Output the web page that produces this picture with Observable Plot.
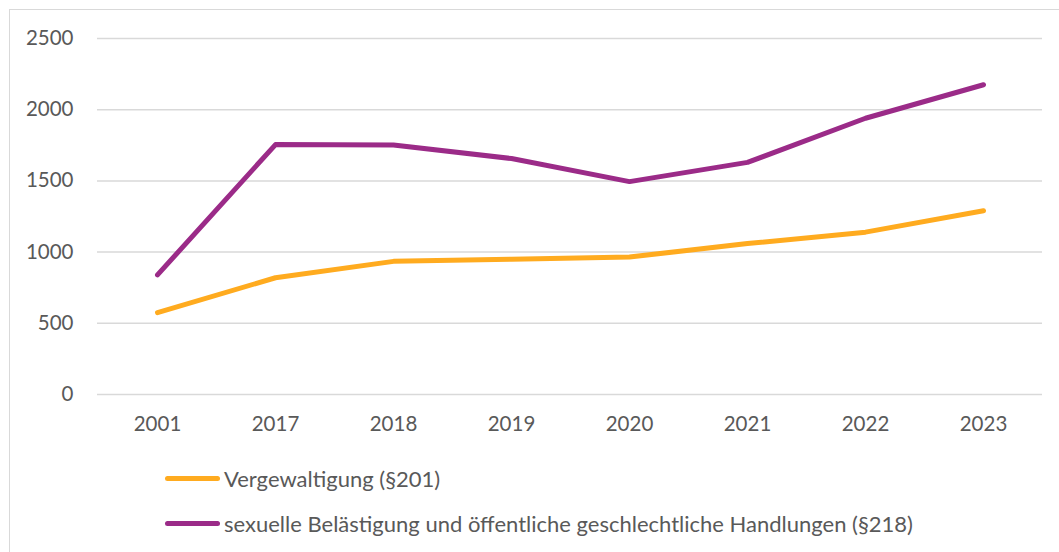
<!DOCTYPE html>
<html>
<head>
<meta charset="utf-8">
<script src="https://cdn.jsdelivr.net/npm/d3@7"></script>
<script src="https://cdn.jsdelivr.net/npm/@observablehq/plot@0.6"></script>
<style>
  html, body { margin: 0; padding: 0; background: #fff; }
  body { width: 1059px; height: 552px; position: relative; overflow: hidden; font-family: Lato, "Open Sans", sans-serif; }
  #frame { position: absolute; left: 9px; top: 9px; width: 1200px; height: 700px; border: 1px solid #d9d9d9; box-sizing: border-box; }
  #chart { position: absolute; left: 0; top: 0; }
  .legend-item { position: absolute; display: flex; align-items: center; color: #595959; font-size: 22px; white-space: nowrap; }
  .swatch { width: 55px; height: 5px; border-radius: 3px; margin-right: 4px; }
</style>
</head>
<body>
<div id="frame"></div>
<div id="chart"></div>
<div id="legend"></div>
<script>
const years = ["2001", "2017", "2018", "2019", "2020", "2021", "2022", "2023"];
const rape = [575, 820, 935, 950, 965, 1060, 1140, 1290];
const harassment = [840, 1755, 1752, 1657, 1495, 1630, 1940, 2175];
const seriesNames = ["Vergewaltigung (§201)", "sexuelle Belästigung und öffentliche geschlechtliche Handlungen (§218)"];
const seriesColors = ["#FFAB1F", "#9B2B88"];
const yTicks = [0, 500, 1000, 1500, 2000, 2500];

const data = [];
years.forEach((y, i) => data.push({year: y, value: rape[i], series: seriesNames[0]}));
years.forEach((y, i) => data.push({year: y, value: harassment[i], series: seriesNames[1]}));

const plot = Plot.plot({
  width: 1059,
  height: 440,
  marginLeft: 97,
  marginRight: 17,
  marginTop: 38,
  marginBottom: 46,
  style: {fontFamily: "Lato, 'Open Sans', sans-serif", fontSize: "20.5px", color: "#595959", background: "transparent"},
  x: {type: "band", domain: years, padding: 0, label: null},
  y: {domain: [0, 2500], ticks: yTicks, label: null},
  color: {domain: seriesNames, range: seriesColors},
  marks: [
    Plot.ruleY(yTicks, {stroke: "#d9d9d9", strokeWidth: 1.5}),
    Plot.axisY({ticks: yTicks, tickFormat: d3.format("d"), tickSize: 0, tickPadding: 24, label: null, fill: "#595959"}),
    Plot.axisX({tickSize: 0, tickPadding: 22, label: null, fill: "#595959"}),
    Plot.line(data, {x: "year", y: "value", z: "series", stroke: "series", strokeWidth: 5, strokeLinecap: "round", strokeLinejoin: "round"})
  ]
});
document.getElementById("chart").appendChild(plot);

const legend = document.getElementById("legend");
const legendTops = [478, 523];
seriesNames.forEach((name, i) => {
  const item = document.createElement("div");
  item.className = "legend-item";
  item.style.left = "165px";
  item.style.top = (legendTops[i] - 13) + "px";
  item.style.height = "26px";
  const sw = document.createElement("div");
  sw.className = "swatch";
  sw.style.background = seriesColors[i];
  const label = document.createElement("span");
  label.textContent = name;
  item.appendChild(sw);
  item.appendChild(label);
  legend.appendChild(item);
});
</script>
</body>
</html>
